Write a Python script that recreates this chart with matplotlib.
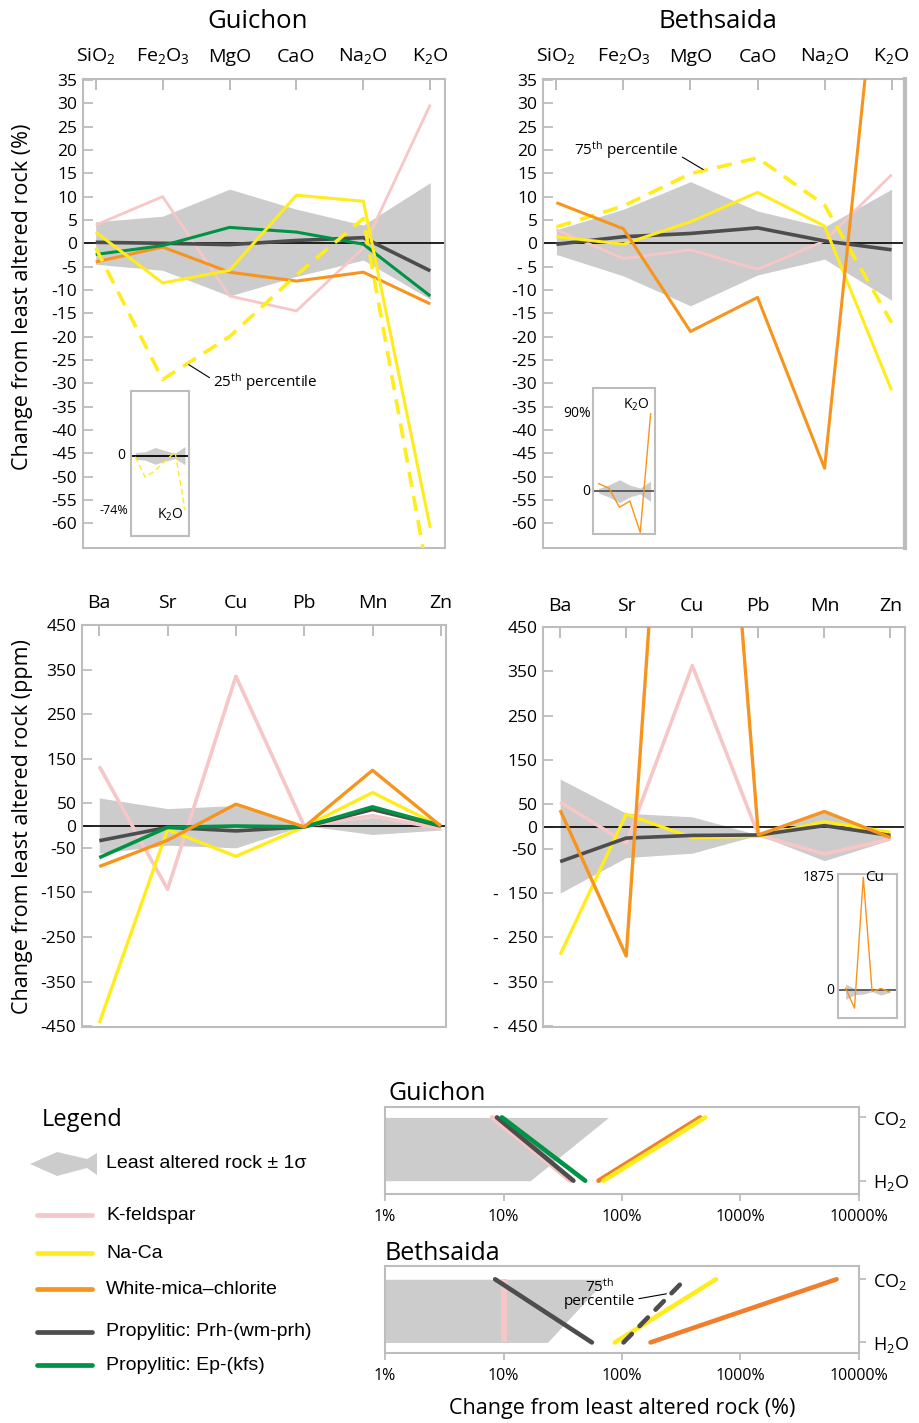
import matplotlib
matplotlib.use("Agg")
import matplotlib.pyplot as plt
import numpy as np
from matplotlib.patches import Polygon

plt.rcParams.update({
    "font.family": ["Open Sans", "DejaVu Sans"],
    "mathtext.fontset": "custom",
    "mathtext.rm": "Open Sans",
    "mathtext.it": "Open Sans:italic",
    "mathtext.bf": "Open Sans:bold",
    "mathtext.default": "regular",
})

# ------------------------------------------------------------------ data
oxides = ["SiO$_2$", "Fe$_2$O$_3$", "MgO", "CaO", "Na$_2$O", "K$_2$O"]
traces = ["Ba", "Sr", "Cu", "Pb", "Mn", "Zn"]
volatiles = ["H$_2$O", "CO$_2$"]

# Guichon, major oxides (% change from least altered rock)
g_ox_band_lo = [-4.5, -5.8, -11.3, -7.1, -3.6, -12.0]
g_ox_band_hi = [4.6, 5.8, 11.6, 7.3, 3.9, 13.0]
g_ox_kfs = [3.9, 10.0, -11.3, -14.5, -1.0, 29.7]
g_ox_naca = [2.4, -8.5, -5.8, 10.3, 9.0, -61.0]
g_ox_naca_p25 = [-1.0, -29.2, -20.0, -6.8, 5.3, -74.0]
g_ox_wmc = [-4.0, -0.8, -6.2, -8.1, -6.2, -13.0]
g_ox_prh = [0.2, 0.0, -0.3, 0.6, 1.2, -5.9]
g_ox_ep = [-2.4, -0.5, 3.4, 2.4, -0.2, -11.3]

# Bethsaida, major oxides (%)
b_ox_band_lo = [-2.4, -7.0, -13.4, -6.8, -3.4, -12.2]
b_ox_band_hi = [2.9, 7.3, 13.2, 6.9, 3.5, 11.6]
b_ox_kfs = [2.9, -3.3, -1.4, -5.6, 0.5, 14.7]
b_ox_naca = [1.4, -0.2, 4.6, 10.9, 3.7, -31.5]
b_ox_naca_p75 = [3.5, 8.0, 14.9, 18.3, 8.2, -17.0]
b_ox_wmc = [8.7, 3.1, -18.9, -11.6, -48.2, 90.0]
b_ox_prh = [-0.2, 1.4, 2.1, 3.3, 0.5, -1.4]

# Guichon, trace elements (ppm)
g_tr_band_lo = [-62, -44, -50, 0, -20, -10]
g_tr_band_hi = [62, 38, 45, 0, 18, -3]
g_tr_kfs = [133, -143, 335, -1, 22, -7]
g_tr_naca = [-443, -9, -69, -3, 74, -2]
g_tr_wmc = [-92, -33, 48, -3, 124, -1]
g_tr_prh = [-34, -4, -12, -3, 36, -1]
g_tr_ep = [-72, -4, -1, -3, 42, 0]

# Bethsaida, trace elements (ppm)
b_tr_band_lo = [-150, -70, -60, -19, -77, -30]
b_tr_band_hi = [107, 30, 22, -19, 34, -19]
b_tr_kfs = [55, -37, 363, -19, -62, -28]
b_tr_naca = [-289, 28, -25, -22, 11, -13]
b_tr_wmc = [37, -292, 1875, -19, 34, -25]
b_tr_prh = [-79, -26, -20, -19, 2, -20]

# Volatiles (% change), ordered H2O, CO2
g_vol_band = [16.8, 77]
g_vol_kfs = [36.5, 8.0]
g_vol_prh = [38.9, 8.8]
g_vol_ep = [48.9, 9.7]
g_vol_wmc = [63.3, 457]
g_vol_naca = [69.8, 504]

b_vol_band = [23.5, 73]
b_vol_kfs = [10, 10]
b_vol_prh = [55.7, 8.5]
b_vol_prh_p75 = [103, 341]
b_vol_naca = [87, 621]
b_vol_wmc = [174, 6470]

pct_ticks = [1, 10, 100, 1000, 10000]

# ------------------------------------------------------------------ style
PINK = "#f7c6c7"
YELLOW = "#ffec1c"
ORANGE = "#f7941d"
ORANGE_V = "#ef7f2c"
DARK = "#4d4d4d"
GREEN = "#009245"
BAND = "#cccccc"
FRAME = "#bdbdbd"

W, H = 920, 1423
fig = plt.figure(figsize=(W / 100, H / 100), dpi=100)


def rect(l, t, r, b):
    """Axes rectangle from pixel edges (origin top-left)."""
    return [l / W, 1 - b / H, (r - l) / W, (b - t) / H]


def frame(ax, lw=1.5):
    for s in ax.spines.values():
        s.set_color(FRAME)
        s.set_linewidth(lw)


def profile(ax, cats, lo, hi, series, xlim, ylim, yticks, ylabels):
    x = np.arange(len(cats))
    ax.fill_between(x, lo, hi, color=BAND, lw=0, zorder=1)
    ax.axhline(0, color="black", lw=1.2, zorder=2)
    for vals, kw in series:
        ax.plot(x, vals, zorder=3, solid_capstyle="butt", **kw)
    ax.set_xlim(*xlim)
    ax.set_ylim(*ylim)
    ax.set_xticks(x)
    ax.set_xticklabels(cats, fontsize=14)
    ax.set_yticks(yticks)
    ax.set_yticklabels(ylabels, fontsize=12.5)
    ax.tick_params(axis="x", top=True, bottom=False, labeltop=True,
                   labelbottom=False, direction="in", length=8, width=1.4,
                   color=FRAME, pad=9)
    ax.tick_params(axis="y", left=True, direction="in", length=7, width=1.3,
                   color=FRAME, pad=4)
    frame(ax)


def inset(ax, lo, hi, vals, xlim, ylim, zero_color, **kw):
    x = np.arange(len(vals))
    ax.fill_between(x, lo, hi, color=BAND, lw=0, zorder=1)
    ax.axhline(0, color=zero_color, lw=1.3, zorder=2)
    ax.plot(x, vals, zorder=3, **kw)
    ax.set_xlim(*xlim)
    ax.set_ylim(*ylim)
    ax.set_xticks([])
    ax.set_yticks([])
    frame(ax, 1.5)


ox_ticks = list(range(-60, 36, 5))
ox_labels_g = [str(v) for v in ox_ticks]
ox_labels_b = ["- 5" if v == -5 else str(v) for v in ox_ticks]
tr_ticks = [450, 350, 250, 150, 50, 0, -50, -150, -250, -350, -450]
tr_labels_g = [str(v) for v in tr_ticks]
tr_labels_b = [("-  " + str(-v)) if v < -50 else str(v) for v in tr_ticks]

lw_main = 2.2

# ---- Guichon oxides
ax1 = fig.add_axes(rect(83, 79, 445, 548))
profile(ax1, oxides, g_ox_band_lo, g_ox_band_hi, [
    (g_ox_kfs, dict(color=PINK, lw=2.0)),
    (g_ox_prh, dict(color=DARK, lw=2.6)),
    (g_ox_wmc, dict(color=ORANGE, lw=lw_main)),
    (g_ox_ep, dict(color=GREEN, lw=lw_main)),
    (g_ox_naca, dict(color=YELLOW, lw=lw_main)),
    (g_ox_naca_p25, dict(color=YELLOW, lw=2.6, dashes=(4.2, 2.6))),
], (-0.19, 5.22), (-65.3, 35.2), ox_ticks, ox_labels_g)
ax1.annotate("25$^{th}$ percentile", xy=(1.39, -26.0), xytext=(1.76, -29.8),
             fontsize=11, ha="left", va="center",
             arrowprops=dict(arrowstyle="-", color="black", lw=0.8,
                             shrinkA=1, shrinkB=0, relpos=(0, 0.6)))

# ---- Bethsaida oxides
ax2 = fig.add_axes(rect(543, 79, 905, 548))
profile(ax2, oxides, b_ox_band_lo, b_ox_band_hi, [
    (b_ox_kfs, dict(color=PINK, lw=2.0)),
    (b_ox_prh, dict(color=DARK, lw=2.6)),
    (b_ox_naca, dict(color=YELLOW, lw=lw_main)),
    (b_ox_naca_p75, dict(color=YELLOW, lw=2.6, dashes=(4.2, 2.6))),
    (b_ox_wmc, dict(color=ORANGE, lw=lw_main)),
], (-0.2, 5.2), (-65.3, 35.2), ox_ticks, ox_labels_b)
ax2.spines["right"].set_linewidth(3.0)
ax2.annotate("75$^{th}$ percentile", xy=(2.19, 15.8), xytext=(1.82, 19.9),
             fontsize=11, ha="right", va="center",
             arrowprops=dict(arrowstyle="-", color="black", lw=0.8,
                             shrinkA=1, shrinkB=0, relpos=(1, 0.3)))

# ---- Guichon trace elements
ax3 = fig.add_axes(rect(82, 625, 446, 1027))
profile(ax3, traces, g_tr_band_lo, g_tr_band_hi, [
    (g_tr_kfs, dict(color=PINK, lw=2.6)),
    (g_tr_naca, dict(color=YELLOW, lw=2.4)),
    (g_tr_prh, dict(color=DARK, lw=2.6)),
    (g_tr_ep, dict(color=GREEN, lw=2.6)),
    (g_tr_wmc, dict(color=ORANGE, lw=2.4)),
], (-0.253, 5.076), (-452, 449), tr_ticks, tr_labels_g)

# ---- Bethsaida trace elements
ax4 = fig.add_axes(rect(543, 627, 905, 1027))
profile(ax4, traces, b_tr_band_lo, b_tr_band_hi, [
    (b_tr_kfs, dict(color=PINK, lw=2.6)),
    (b_tr_naca, dict(color=YELLOW, lw=2.4)),
    (b_tr_prh, dict(color=DARK, lw=2.6)),
    (b_tr_wmc, dict(color=ORANGE, lw=2.4)),
], (-0.26, 5.22), (-452, 449), tr_ticks, tr_labels_b)

# ---- insets with the full range of the off-scale series
in1 = fig.add_axes(rect(131, 391, 189, 536))
inset(in1, g_ox_band_lo, g_ox_band_hi, g_ox_naca_p25, (-0.43, 5.4), (-109.6, 89),
      "black", color=YELLOW, lw=1.0, dashes=(4, 2.5))
in1.text(-1.0, 0, "0", ha="right", va="center", fontsize=10, clip_on=False)
in1.text(-0.7, -74, "-74%", ha="right", va="center", fontsize=9, clip_on=False)
in1.text(3.5, -81, "K$_2$O", ha="center", va="center", fontsize=10)

in2 = fig.add_axes(rect(593, 388, 655, 534))
inset(in2, b_ox_band_lo, b_ox_band_hi, b_ox_wmc, (-0.55, 5.42), (-50, 120),
      "#555555", color=ORANGE, lw=1.0)
in2.text(-0.8, 0, "0", ha="right", va="center", fontsize=10, clip_on=False)
in2.text(-0.8, 90, "90%", ha="right", va="center", fontsize=10, clip_on=False)
in2.text(3.65, 100, "K$_2$O", ha="center", va="center", fontsize=10)

in3 = fig.add_axes(rect(838, 874, 897, 1018))
inset(in3, b_tr_band_lo, b_tr_band_hi, b_tr_wmc, (-0.875, 5.83), (-456, 1929),
      "#555555", color=ORANGE, lw=1.0)
in3.text(-1.3, 0, "0", ha="right", va="center", fontsize=10, clip_on=False)
in3.text(-1.2, 1875, "1875", ha="right", va="center", fontsize=10, clip_on=False)
in3.text(2.2, 1875, "Cu", ha="left", va="center", fontsize=11)


# ---- volatile panels (log scale)
def volatile_panel(ax, band, series, ylim):
    y = np.arange(len(volatiles))
    ax.fill_betweenx(y, [pct_ticks[0]] * len(y), band, color=BAND, lw=0, zorder=1)
    for vals, kw in series:
        ax.plot(vals, y, zorder=3, **kw)
    ax.set_xscale("log")
    ax.set_xlim(pct_ticks[0], pct_ticks[-1])
    ax.set_ylim(*ylim)
    ax.set_xticks(pct_ticks)
    ax.set_xticklabels([f"{t}%" for t in pct_ticks], fontsize=11.5)
    ax.xaxis.set_minor_locator(matplotlib.ticker.NullLocator())
    ax.set_yticks(y)
    ax.set_yticklabels(volatiles, fontsize=13)
    ax.tick_params(axis="x", direction="out", length=5, width=1.3, color=FRAME, pad=6)
    ax.tick_params(axis="y", left=False, right=True, labelleft=False,
                   labelright=True, direction="out", length=5, width=1.3,
                   color=FRAME, pad=5)
    frame(ax)


rnd = dict(lw=3.3, solid_capstyle="round")
ax5 = fig.add_axes(rect(385, 1107, 859, 1194))
volatile_panel(ax5, g_vol_band, [
    (g_vol_kfs, dict(color=PINK, **rnd)),
    (g_vol_prh, dict(color=DARK, **rnd)),
    (g_vol_ep, dict(color=GREEN, **rnd)),
    (g_vol_wmc, dict(color=ORANGE_V, **rnd)),
    (g_vol_naca, dict(color=YELLOW, **rnd)),
], (-0.21, 1.164))

ax6 = fig.add_axes(rect(385, 1266, 859, 1353))
volatile_panel(ax6, b_vol_band, [
    (b_vol_kfs, dict(color=PINK, lw=4.2, solid_capstyle="butt")),
    (b_vol_prh, dict(color=DARK, **rnd)),
    (b_vol_naca, dict(color=YELLOW, **rnd)),
    (b_vol_prh_p75, dict(color=DARK, lw=3.3, dash_capstyle="round", dashes=(2.6, 2.4))),
    (b_vol_wmc, dict(color=ORANGE_V, **rnd)),
], (-0.167, 1.21))
ax6.annotate("75$^{th}$\npercentile", xy=(237, 0.77), xytext=(64, 0.78),
             fontsize=11, ha="center", va="center", linespacing=0.85,
             arrowprops=dict(arrowstyle="-", color="black", lw=0.8,
                             shrinkA=1, shrinkB=0, relpos=(1, 0.3)))
ax6.set_xlabel("Change from least altered rock (%)", fontsize=15.5, labelpad=10)

# ---- figure-level text and legend
ov = fig.add_axes([0, 0, 1, 1], zorder=-1)
ov.set_xlim(0, W)
ov.set_ylim(H, 0)
ov.axis("off")

ov.text(258, 21, "Guichon", fontsize=18.5, ha="center", va="center")
ov.text(718, 21, "Bethsaida", fontsize=18.5, ha="center", va="center")
ov.text(389, 1094, "Guichon", fontsize=18, ha="left", va="center")
ov.text(385, 1253, "Bethsaida", fontsize=18, ha="left", va="center")
ov.text(23, 297, "Change from least altered rock (%)", fontsize=15.5,
        rotation=90, ha="center", va="center")
ov.text(23, 827, "Change from least altered rock (ppm)", fontsize=15.5,
        rotation=90, ha="center", va="center")

ov.text(42, 1120, "Legend", fontsize=17, ha="left", va="center")
legend_font = dict(family=["Liberation Sans", "DejaVu Sans"], fontsize=14,
                   ha="left", va="center")
ov.add_patch(Polygon([(30, 1164), (57, 1152), (87, 1159), (97, 1153),
                      (97, 1175), (87, 1168), (57, 1176)],
                     closed=True, color=BAND, lw=0))
ov.text(106, 1163, "Least altered rock ± 1σ", **legend_font)
legend_rows = [
    (1215, PINK, "K-feldspar"),
    (1253, YELLOW, "Na-Ca"),
    (1289, ORANGE, "White-mica–chlorite"),
    (1332, DARK, "Propylitic: Prh-(wm-prh)"),
    (1365, GREEN, "Propylitic: Ep-(kfs)"),
]
for yy, col, lab in legend_rows:
    ov.plot([37, 92], [yy, yy], color=col, lw=3.4, solid_capstyle="round")
    ov.text(106, yy, lab, **legend_font)

fig.savefig("out.png", dpi=100)
